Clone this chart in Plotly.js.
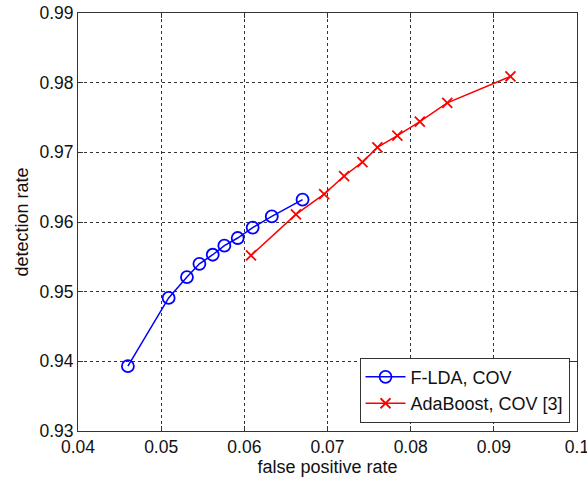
<!DOCTYPE html>
<html><head><meta charset="utf-8">
<script src="https://cdn.plot.ly/plotly-3.0.1.min.js"></script>
<style>html,body{margin:0;padding:0;background:#fff}#c{width:587px;height:481px}</style>
</head><body><div id="c"></div>
<script>
const fldaFpr = [0.0460, 0.0509, 0.0531, 0.0546, 0.0562, 0.0576, 0.0592, 0.0610, 0.0633, 0.0670];
const fldaDr  = [0.9393, 0.9491, 0.9521, 0.9540, 0.9553, 0.9566, 0.9577, 0.9592, 0.9608, 0.9632];
const adaFpr  = [0.0608, 0.0662, 0.0696, 0.0720, 0.0742, 0.0760, 0.0784, 0.0811, 0.0844, 0.0920];
const adaDr   = [0.9552, 0.9611, 0.9640, 0.9666, 0.9686, 0.9707, 0.9724, 0.9744, 0.9771, 0.9809];
const xTicks = [0.04, 0.05, 0.06, 0.07, 0.08, 0.09, 0.1];
const yTicks = [0.93, 0.94, 0.95, 0.96, 0.97, 0.98, 0.99];

const traces = [
  {x: fldaFpr, y: fldaDr, name: 'F-LDA, COV', mode: 'lines+markers', type: 'scatter',
   line: {color: '#0000ff', width: 1.5},
   marker: {symbol: 'circle-open', size: 12, color: '#0000ff', line: {width: 1.8, color: '#0000ff'}}},
  {x: adaFpr, y: adaDr, name: 'AdaBoost, COV [3]', mode: 'lines+markers', type: 'scatter',
   line: {color: '#ff0000', width: 1.5},
   marker: {symbol: 'x-thin-open', size: 10, color: '#ff0000', line: {width: 1.8, color: '#ff0000'}}}
];
const axisCommon = {
  showline: true, mirror: 'ticks', linecolor: '#333', linewidth: 1,
  ticks: 'inside', ticklen: 5, tickcolor: '#333', ticklabeloverflow: 'allow',
  showgrid: true, gridcolor: '#333', griddash: 'dot', gridwidth: 1,
  zeroline: false, tickfont: {family: 'Arial, Liberation Sans', size: 17.5, color: '#111'}
};
const layout = {
  width: 587, height: 481,
  margin: {l: 78, r: 10, t: 13, b: 50},
  paper_bgcolor: '#fff', plot_bgcolor: '#fff',
  showlegend: true,
  font: {family: 'Arial, Liberation Sans', color: '#111'},
  xaxis: Object.assign({}, axisCommon, {range: [0.04, 0.1], tickvals: xTicks, ticktext: xTicks.map(String),
    title: {text: 'false positive rate', font: {size: 18}, standoff: 4}}),
  yaxis: Object.assign({}, axisCommon, {range: [0.93, 0.99], tickvals: yTicks, ticktext: yTicks.map(String),
    title: {text: 'detection rate', font: {size: 18}, standoff: 6}}),
  legend: {x: 0.985, y: 0.02, xanchor: 'right', yanchor: 'bottom', bgcolor: '#fff',
    bordercolor: '#333', borderwidth: 1, font: {size: 18, color: '#111'}, tracegroupgap: 0, itemwidth: 40}
};
Plotly.newPlot('c', traces, layout, {displayModeBar: false, staticPlot: true});
</script></body></html>
